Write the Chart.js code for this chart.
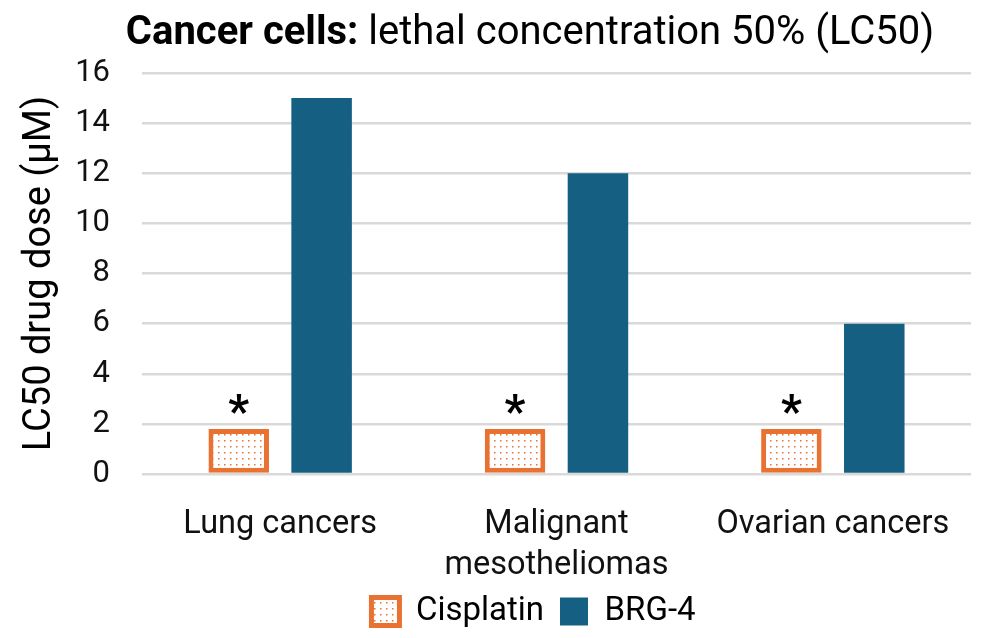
<!DOCTYPE html>
<html>
<head>
<meta charset="utf-8">
<script src="https://cdn.jsdelivr.net/npm/chart.js@4.4.1/dist/chart.umd.min.js"></script>
<style>
  html, body { margin: 0; padding: 0; background: #fff; }
  #wrap { width: 1001px; height: 638px; }
</style>
</head>
<body>
<div id="wrap"><canvas id="lcChart" width="1001" height="638"></canvas></div>
<script>
// Chart data
const categories = ['Lung cancers', ['Malignant', 'mesotheliomas'], 'Ovarian cancers'];
const cisplatinValues = [1.8, 1.8, 1.8];
const brgValues = [15, 12, 6];
const yTicks = [0, 2, 4, 6, 8, 10, 12, 14, 16];
const markLabels = ['*', '*', '*'];

const ORANGE = '#E97132';
const BLUE = '#156082';
const FONT = 'Roboto, "Noto Sans", sans-serif';

// dotted fill for the Cisplatin bars
function dotPattern() {
  const c = document.createElement('canvas');
  c.width = 6; c.height = 6;
  const g = c.getContext('2d');
  g.fillStyle = '#ffffff';
  g.fillRect(0, 0, 6, 6);
  g.fillStyle = ORANGE;
  g.fillRect(2, 2, 1.5, 1.5);
  return g.createPattern(c, 'repeat');
}

// Title with bold prefix
const titlePlugin = {
  id: 'mixedTitle',
  afterDraw(chart) {
    const ctx = chart.ctx;
    const boldPart = 'Cancer cells: ';
    const normalPart = 'lethal concentration 50% (LC50)';
    ctx.save();
    ctx.textBaseline = 'middle';
    ctx.fillStyle = '#000';
    ctx.font = 'bold 40px ' + FONT;
    const w1 = ctx.measureText(boldPart).width;
    ctx.font = '40px ' + FONT;
    const w2 = ctx.measureText(normalPart).width;
    const x0 = 530 - (w1 + w2) / 2;
    ctx.font = 'bold 40px ' + FONT;
    ctx.fillText(boldPart, x0, 34);
    ctx.font = '40px ' + FONT;
    ctx.fillText(normalPart, x0 + w1, 34);
    ctx.restore();
  }
};

// Asterisks above Cisplatin bars
const starPlugin = {
  id: 'stars',
  afterDatasetsDraw(chart) {
    const ctx = chart.ctx;
    const meta = chart.getDatasetMeta(0);
    ctx.save();
    ctx.font = 'bold 46px ' + FONT;
    ctx.fillStyle = '#000';
    ctx.textAlign = 'center';
    ctx.textBaseline = 'alphabetic';
    meta.data.forEach(function(bar, i) {
      ctx.fillText(markLabels[i], bar.x, bar.y - 2);
    });
    ctx.restore();
  }
};

// nudge the legend so it sits where the original one does
const legendShift = {
  id: 'legendShift',
  afterLayout(chart) {
    const lg = chart.legend;
    if (lg) { lg.left += 48; lg.right += 48; }
  }
};

const ctx = document.getElementById('lcChart').getContext('2d');
new Chart(ctx, {
  type: 'bar',
  data: {
    labels: categories,
    datasets: [{
      label: 'Cisplatin',
      data: cisplatinValues,
      backgroundColor: dotPattern(),
      borderColor: ORANGE,
      borderWidth: 5,
      borderSkipped: false
    }, {
      label: 'BRG-4',
      data: brgValues,
      backgroundColor: BLUE,
      borderColor: BLUE,
      borderWidth: 0
    }]
  },
  plugins: [titlePlugin, starPlugin, legendShift],
  options: {
    responsive: false,
    animation: false,
    devicePixelRatio: 1,
    categoryPercentage: 0.6,
    barPercentage: 0.73,
    layout: { padding: { top: 73, right: 30, left: 0, bottom: 0 } },
    scales: {
      x: {
        grid: { display: false },
        border: { display: false },
        ticks: { color: '#111', font: { family: FONT, size: 32.5, lineHeight: 1.27 }, padding: 22 },
        afterFit(scale) { scale.height = 105; }
      },
      y: {
        min: 0,
        max: 16,
        afterBuildTicks(axis) { axis.ticks = yTicks.map(v => ({ value: v })); },
        afterFit(scale) { scale.width = 142; },
        grid: { color: '#d9d9d9', lineWidth: 2.5, drawTicks: false },
        border: { display: false },
        ticks: { color: '#111', font: { family: FONT, size: 31 }, padding: 32 },
        title: {
          display: true,
          text: 'LC50 drug dose (\u00b5M)',
          color: '#000',
          font: { family: FONT, size: 38 },
          padding: { top: 18, bottom: 0 }
        }
      }
    },
    plugins: {
      title: { display: false },
      tooltip: { enabled: false },
      legend: {
        position: 'bottom',
        labels: {
          color: '#000',
          font: { family: FONT, size: 33 },
          boxWidth: 28,
          boxHeight: 28,
          padding: 16,
          useBorderRadius: false
        }
      }
    }
  }
});
</script>
</body>
</html>
